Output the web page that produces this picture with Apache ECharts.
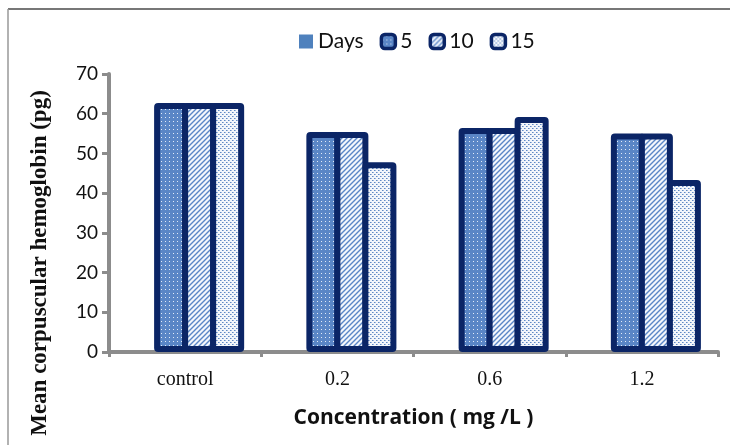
<!DOCTYPE html>
<html><head><meta charset="utf-8">
<script src="https://cdn.jsdelivr.net/npm/echarts@6/dist/echarts.min.js"></script>
<style>html,body{margin:0;padding:0;background:#fff}#c{width:730px;height:445px}</style>
</head><body><div id="c"></div>
<script>
var categories = ['control', '0.2', '0.6', '1.2'];
var seriesNames = ['Days', '5', '10', '15'];
var daysValues = [0, 0, 0, 0];
var day5Values = [62.7, 55.4, 56.4, 55];
var day10Values = [62.7, 55.4, 56.4, 55];
var day15Values = [62.7, 47.8, 59.2, 43.3];

function makePattern(kind) {
  var c = document.createElement('canvas');
  var ctx = c.getContext('2d');
  if (kind === 'dots') {
    c.width = 4; c.height = 4;
    ctx.fillStyle = '#5a86c6'; ctx.fillRect(0, 0, 4, 4);
    ctx.fillStyle = '#e3ebf7'; ctx.fillRect(1, 1, 1, 1);
  } else if (kind === 'diag') {
    c.width = 5; c.height = 5;
    ctx.fillStyle = '#f4f7fc'; ctx.fillRect(0, 0, 5, 5);
    ctx.strokeStyle = '#5a86c6'; ctx.lineWidth = 1.4;
    ctx.beginPath();
    ctx.moveTo(-1, 6); ctx.lineTo(6, -1);
    ctx.moveTo(-1, 1); ctx.lineTo(1, -1);
    ctx.moveTo(4, 6); ctx.lineTo(6, 4);
    ctx.stroke();
  } else {
    c.width = 4; c.height = 4;
    ctx.fillStyle = '#f3f6fb'; ctx.fillRect(0, 0, 4, 4);
    ctx.fillStyle = '#5f88c4'; ctx.fillRect(0, 0, 1, 1); ctx.fillRect(2, 2, 1, 1);
    ctx.fillStyle = '#9fb8dd'; ctx.fillRect(1, 0, 1, 1); ctx.fillRect(3, 2, 1, 1);
  }
  return { image: c, repeat: 'repeat' };
}

var navy = '#0b2566';
var BW = 34, GAP = '-17.6%';
var chart = echarts.init(document.getElementById('c'), null, { renderer: 'canvas' });

function patBar(name, data, kind) {
  return {
    name: name, type: 'bar', data: data, barWidth: BW, barGap: GAP,
    itemStyle: { color: makePattern(kind), borderColor: navy, borderWidth: 6, borderRadius: 1 },
    emphasis: { disabled: true }
  };
}

chart.setOption({
  animation: false,
  backgroundColor: '#fff',
  graphic: [
    { type: 'line', shape: { x1: 8, y1: 9, x2: 730, y2: 9 }, style: { stroke: '#777', lineWidth: 2 } },
    { type: 'line', shape: { x1: 8, y1: 9, x2: 8, y2: 445 }, style: { stroke: '#999', lineWidth: 1.5 } },
    { type: 'text', x: 40, y: 263, rotation: Math.PI / 2,
      style: { text: 'Mean corpuscular hemoglobin (pg)', font: 'bold 23px "Liberation Serif"', fill: '#111', align: 'center', verticalAlign: 'middle' } }
  ],
  legend: {
    top: 26, left: 294, itemWidth: 14, itemHeight: 14, itemGap: 16,
    textStyle: { fontFamily: 'Lato', fontSize: 21, color: '#111' },
    data: [
      { name: 'Days', icon: 'rect', itemStyle: { color: '#4f81bd', borderWidth: 0 } },
      { name: '5', icon: 'roundRect', itemStyle: { borderWidth: 3.5 } },
      { name: '10', icon: 'roundRect', itemStyle: { borderWidth: 3.5 } },
      { name: '15', icon: 'roundRect', itemStyle: { borderWidth: 3.5 } }
    ]
  },
  grid: { left: 109, right: 12, top: 74, bottom: 93, containLabel: false },
  xAxis: {
    type: 'category', data: categories,
    axisLine: { lineStyle: { color: '#8c8c8c', width: 4 } },
    axisTick: { show: true, length: 5, lineStyle: { color: '#8c8c8c', width: 3 } },
    axisLabel: { fontFamily: 'Liberation Serif', fontSize: 20, color: '#111', margin: 18 },
    name: 'Concentration ( mg /L )', nameLocation: 'middle', nameGap: 56,
    nameTextStyle: { fontFamily: 'Open Sans', fontWeight: 'bold', fontSize: 21, color: '#111' }
  },
  yAxis: {
    type: 'value', min: 0, max: 70, interval: 10,
    axisLine: { show: true, lineStyle: { color: '#8c8c8c', width: 4 } },
    axisTick: { show: true, length: 7, lineStyle: { color: '#8c8c8c', width: 3 } },
    splitLine: { show: false },
    axisLabel: { fontFamily: 'Lato', fontSize: 19, color: '#111', margin: 11 }
  },
  series: [
    { name: 'Days', type: 'bar', data: daysValues, barWidth: BW, barGap: GAP,
      itemStyle: { color: '#4f81bd', borderWidth: 0 }, emphasis: { disabled: true } },
    patBar('5', day5Values, 'dots'),
    patBar('10', day10Values, 'diag'),
    patBar('15', day15Values, 'sparse')
  ]
});
</script></body></html>
